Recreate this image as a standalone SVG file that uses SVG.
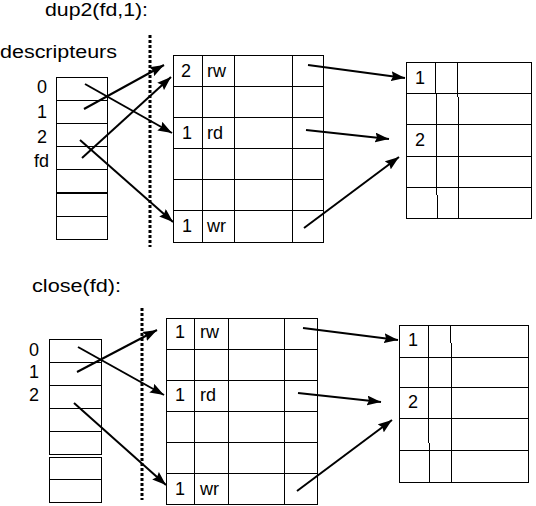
<svg xmlns="http://www.w3.org/2000/svg" width="536" height="506" viewBox="0 0 536 506">
<style>
.t{font-family:"Liberation Sans",Arial,Helvetica,sans-serif;font-size:18px;fill:#000}
.box{fill:none;stroke:#000;stroke-width:1}
.ln{stroke:#000;stroke-width:1;fill:none}
.dot{stroke:#000;stroke-width:3;stroke-dasharray:3 2;fill:none}
.arr{stroke:#000;stroke-width:2;fill:none;marker-end:url(#ah)}
</style>
<defs>
<marker id="ah" markerUnits="userSpaceOnUse" markerWidth="16" markerHeight="10" refX="14" refY="5" orient="auto">
<path d="M0,0 L14,5 L0,10 L2,5 z" fill="#000"/>
</marker>
</defs>
<rect width="536" height="506" fill="#fff"/>

<text class="t" x="45" y="16" textLength="103" lengthAdjust="spacingAndGlyphs">dup2(fd,1):</text>
<text class="t" x="0" y="58" textLength="117" lengthAdjust="spacingAndGlyphs">descripteurs</text>
<text class="t" x="32" y="292" textLength="89" lengthAdjust="spacingAndGlyphs">close(fd):</text>

<g id="desc-top">
<rect class="box" x="56.5" y="77.5" width="51" height="162"/>
<path class="ln" d="M56,100.5H107M56,123.5H107M56,146.5H107M56,169.5H107M56,216.5H107"/>
<path d="M56,193H107" stroke="#000" stroke-width="2"/>
<text class="t" x="37" y="93">0</text>
<text class="t" x="37" y="118">1</text>
<text class="t" x="37" y="143">2</text>
<text class="t" x="34" y="167">fd</text>
</g>

<g id="sep-top"><path class="dot" d="M150,35V247"/></g>

<g id="files-top">
<rect class="box" x="173.5" y="55.5" width="150" height="187"/>
<path class="ln" d="M173,86.5H323M173,117.5H323M173,148.5H323M173,179.5H323M173,210.5H323M202.5,55V242M234.5,55V242M292.5,55V242"/>
<text class="t" x="181" y="77">2</text><text class="t" x="207" y="77">rw</text>
<text class="t" x="182" y="139">1</text><text class="t" x="207" y="139">rd</text>
<text class="t" x="182" y="232">1</text><text class="t" x="207" y="232">wr</text>
</g>

<g id="inodes-top">
<rect class="box" x="406.5" y="62.5" width="125" height="156"/>
<path class="ln" d="M406,93.5H531M406,124.5H531M406,156.5H531M406,187.5H531M435.5,62V94M436.5,94V195M437.5,195V218M457.5,62V97M458.5,97V218"/>
<text class="t" x="415" y="84">1</text>
<text class="t" x="415" y="146">2</text>
</g>

<g id="desc-bottom">
<rect class="box" x="49.5" y="339.5" width="52" height="115"/>
<path class="ln" d="M49,362.5H101M49,385.5H101M49,408.5H101M49,431.5H101"/>
<rect class="box" x="49.5" y="457.5" width="52" height="45"/>
<path class="ln" d="M49,479.5H101"/>
<text class="t" x="29" y="356">0</text>
<text class="t" x="29" y="378">1</text>
<text class="t" x="29" y="401">2</text>
</g>

<g id="sep-bottom"><path class="dot" d="M142,308V500"/></g>

<g id="files-bottom">
<rect class="box" x="166.5" y="318.5" width="151" height="186"/>
<path class="ln" d="M166,349.5H317M166,380.5H317M166,411.5H317M166,442.5H317M166,473.5H317M194.5,318V504M228.5,318V504M284.5,318V504"/>
<text class="t" x="175" y="338">1</text><text class="t" x="200" y="338">rw</text>
<text class="t" x="175" y="401">1</text><text class="t" x="200" y="401">rd</text>
<text class="t" x="175" y="495">1</text><text class="t" x="200" y="495">wr</text>
</g>

<g id="inodes-bottom">
<rect class="box" x="399.5" y="325.5" width="129" height="157"/>
<path class="ln" d="M399,357.5H528M399,387.5H528M399,418.5H528M399,450.5H528M428.5,325V443M429.5,443V482M450.5,325V343M451.5,343V482"/>
<text class="t" x="408" y="346">1</text>
<text class="t" x="408" y="408">2</text>
</g>

<g id="connectors">
<line class="arr" x1="85" y1="84" x2="172" y2="133"/>
<line class="arr" x1="84" y1="109" x2="164" y2="65"/>
<line class="arr" x1="80" y1="140" x2="173" y2="222"/>
<line class="arr" x1="82" y1="158" x2="171" y2="77"/>
<line class="arr" x1="308" y1="65" x2="405" y2="78"/>
<line class="arr" x1="306" y1="130" x2="389" y2="139"/>
<line class="arr" x1="304" y1="228" x2="399" y2="157"/>
<line class="arr" x1="78" y1="347" x2="164" y2="395"/>
<line class="arr" x1="77" y1="372" x2="157" y2="330"/>
<line class="arr" x1="74" y1="403" x2="166" y2="485"/>
<line class="arr" x1="303" y1="328" x2="398" y2="340"/>
<line class="arr" x1="298" y1="393" x2="381" y2="402"/>
<line class="arr" x1="297" y1="491" x2="392" y2="420"/>
</g>
</svg>
